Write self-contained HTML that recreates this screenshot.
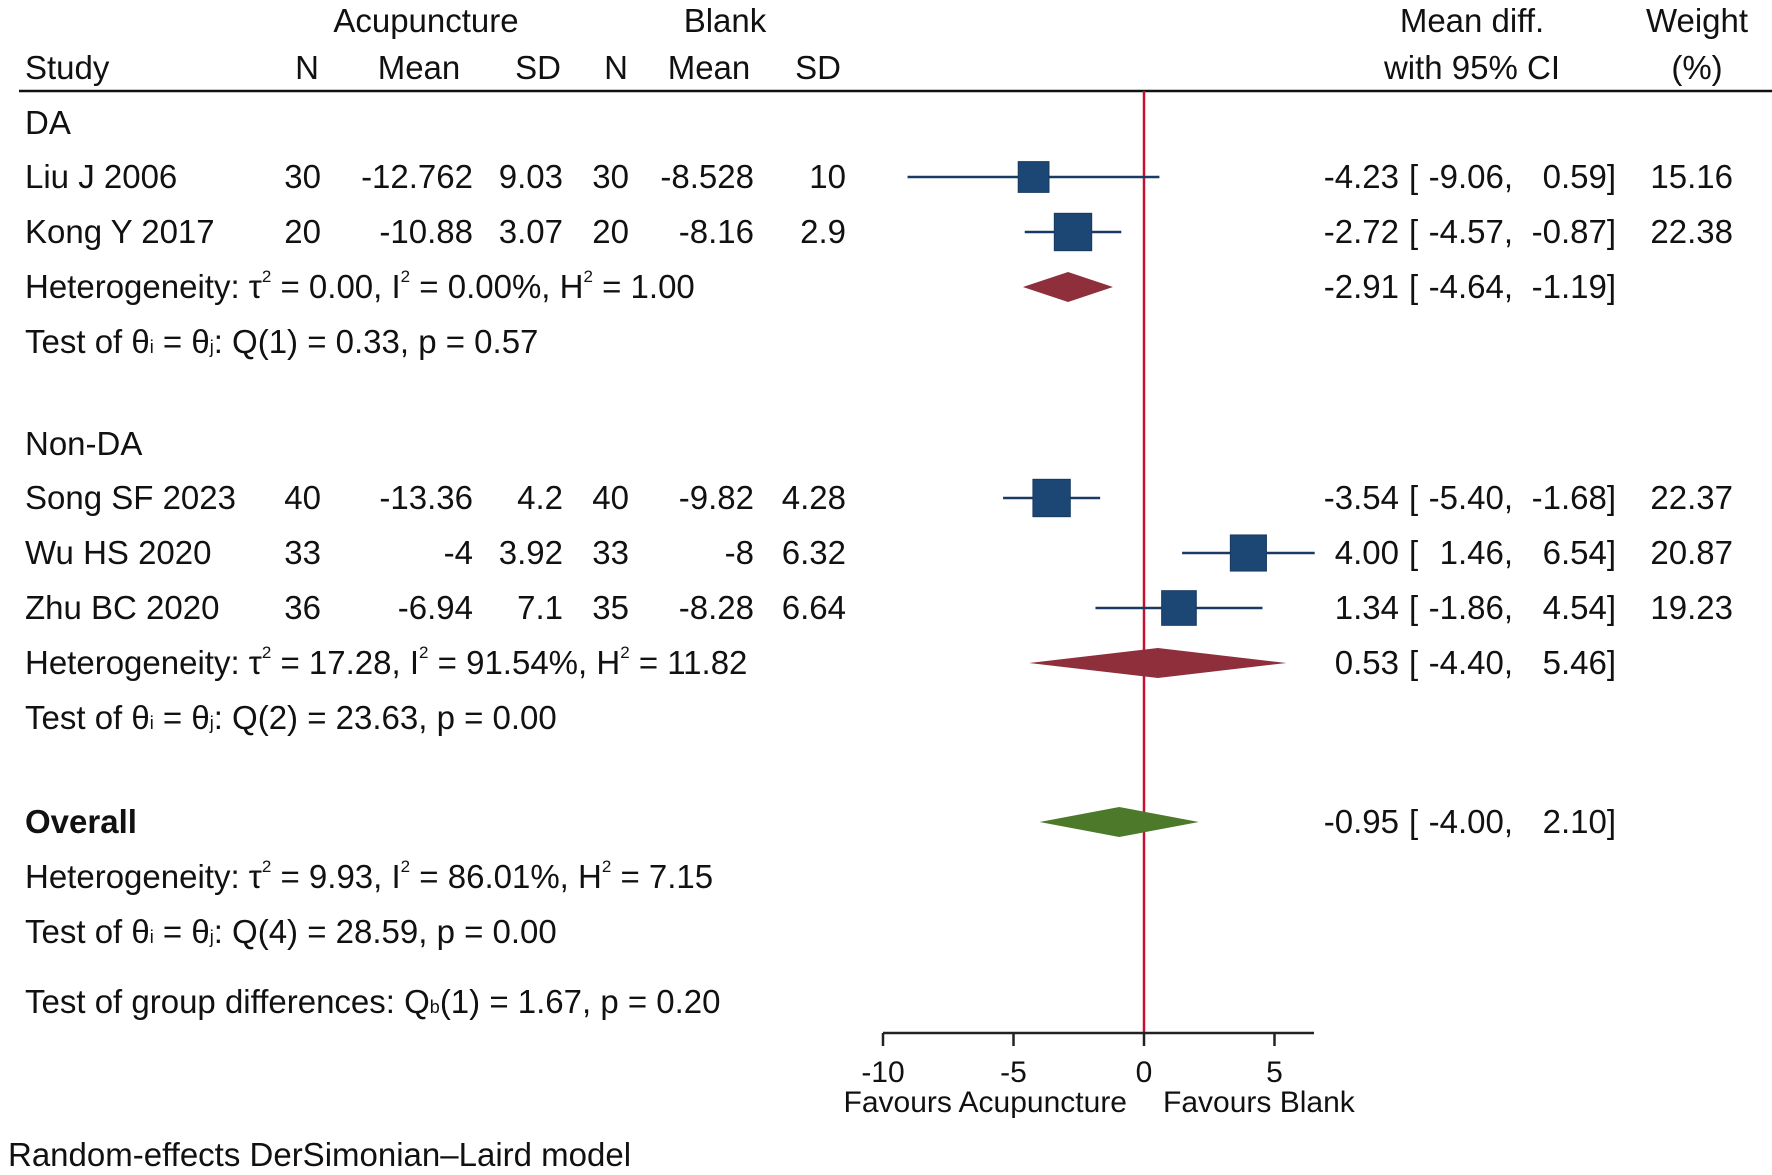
<!DOCTYPE html>
<html><head><meta charset="utf-8"><style>
html,body{margin:0;padding:0;background:#fff;}
svg{display:block;font-family:"Liberation Sans",Arial,sans-serif;}
text{fill:#111;font-size:33px;}
text.ax{font-size:30px;}
</style></head><body>
<svg id="chart" width="1772" height="1175" viewBox="0 0 1772 1175">
<g id="hdr">
<text x="426" y="32" text-anchor="middle">Acupuncture</text>
<text x="725" y="32" text-anchor="middle">Blank</text>
<text x="1472" y="32" text-anchor="middle">Mean diff.</text>
<text x="1697" y="32" text-anchor="middle">Weight</text>
<text x="25" y="79">Study</text>
<text x="307" y="79" text-anchor="middle">N</text>
<text x="419" y="79" text-anchor="middle">Mean</text>
<text x="538" y="79" text-anchor="middle">SD</text>
<text x="616" y="79" text-anchor="middle">N</text>
<text x="709" y="79" text-anchor="middle">Mean</text>
<text x="818" y="79" text-anchor="middle">SD</text>
<text x="1472" y="79" text-anchor="middle">with 95% CI</text>
<text x="1697" y="79" text-anchor="middle">(%)</text>
<line x1="19" y1="91" x2="1772" y2="91" stroke="#111" stroke-width="2.5"/>
</g>
<g id="labels">
<text x="25" y="134">DA</text>
<text x="25" y="298">Heterogeneity: τ<tspan dy="-16" font-size="17">2</tspan><tspan dy="16"> = 0.00, I</tspan><tspan dy="-16" font-size="17">2</tspan><tspan dy="16"> = 0.00%, H</tspan><tspan dy="-16" font-size="17">2</tspan><tspan dy="16"> = 1.00</tspan></text>
<text x="25" y="353">Test of θ<tspan font-size="18">i</tspan> = θ<tspan font-size="18">j</tspan>: Q(1) = 0.33, p = 0.57</text>
<text x="25" y="455">Non-DA</text>
<text x="25" y="674">Heterogeneity: τ<tspan dy="-16" font-size="17">2</tspan><tspan dy="16"> = 17.28, I</tspan><tspan dy="-16" font-size="17">2</tspan><tspan dy="16"> = 91.54%, H</tspan><tspan dy="-16" font-size="17">2</tspan><tspan dy="16"> = 11.82</tspan></text>
<text x="25" y="729">Test of θ<tspan font-size="18">i</tspan> = θ<tspan font-size="18">j</tspan>: Q(2) = 23.63, p = 0.00</text>
<text x="25" y="833" font-weight="bold">Overall</text>
<text x="25" y="888">Heterogeneity: τ<tspan dy="-16" font-size="17">2</tspan><tspan dy="16"> = 9.93, I</tspan><tspan dy="-16" font-size="17">2</tspan><tspan dy="16"> = 86.01%, H</tspan><tspan dy="-16" font-size="17">2</tspan><tspan dy="16"> = 7.15</tspan></text>
<text x="25" y="943">Test of θ<tspan font-size="18">i</tspan> = θ<tspan font-size="18">j</tspan>: Q(4) = 28.59, p = 0.00</text>
<text x="25" y="1013">Test of group differences: Q<tspan font-size="18">b</tspan>(1) = 1.67, p = 0.20</text>
<text x="8" y="1166">Random-effects DerSimonian–Laird model</text>
<text class="ax" x="1127" y="1112" text-anchor="end">Favours Acupuncture</text>
<text class="ax" x="1163" y="1112">Favours Blank</text>
</g>
</svg>
<script>
const studies = ["Liu J 2006","Kong Y 2017","Song SF 2023","Wu HS 2020","Zhu BC 2020"];
const rowY = [177,232,498,553,608];
const n1 = ["30","20","40","33","36"];
const mean1 = ["-12.762","-10.88","-13.36","-4","-6.94"];
const sd1 = ["9.03","3.07","4.2","3.92","7.1"];
const n2 = ["30","20","40","33","35"];
const mean2 = ["-8.528","-8.16","-9.82","-8","-8.28"];
const sd2 = ["10","2.9","4.28","6.32","6.64"];
const est = [-4.23,-2.72,-3.54,4.00,1.34];
const lo = [-9.06,-4.57,-5.40,1.46,-1.86];
const hi = [0.59,-0.87,-1.68,6.54,4.54];
const weights = [15.16,22.38,22.37,20.87,19.23];
const poolNames = ["da-pooled","nonda-pooled","overall-pooled"];
const poolY = [287,663,822];
const poolEst = [-2.91,0.53,-0.95];
const poolLo = [-4.64,-4.40,-4.00];
const poolHi = [-1.19,5.46,2.10];
const poolColor = ["#8e2f3b","#8e2f3b","#4d7a2a"];
const ticks = [-10,-5,0,5];

const NS="http://www.w3.org/2000/svg";
const svg=document.getElementById('chart');
const X=v=>1144+v*26.1;
function mk(tag,attrs,txt){const e=document.createElementNS(NS,tag);for(const k in attrs)e.setAttribute(k,attrs[k]);if(txt!==undefined)e.textContent=txt;svg.appendChild(e);return e;}
const f2=v=>v.toFixed(2);

let el=mk('line',{x1:X(0),y1:91,x2:X(0),y2:1033,stroke:'#c8102e','stroke-width':2.5});


el=mk('line',{x1:X(-10),y1:1033,x2:1314,y2:1033,stroke:'#222','stroke-width':2.5});


ticks.forEach(t=>{
  let l=mk('line',{x1:X(t),y1:1033,x2:X(t),y2:1046,stroke:'#222','stroke-width':2.5});
  
  
  let tx=mk('text',{x:X(t),y:1082,'text-anchor':'middle','class':'ax'},String(t));
  
  
});

function ciText(y,e,l,h,prefix){
  const by=y+11;
  let e1=mk('text',{x:1399,y:by,'text-anchor':'end'},f2(e));
  
  
  let br=mk('text',{x:1409,y:by},'[');
  
  
  let e2=mk('text',{x:1513,y:by,'text-anchor':'end'},f2(l)+',');
  
  
  let e3=mk('text',{x:1616,y:by,'text-anchor':'end'},f2(h)+']');
  
  
}

studies.forEach((s,i)=>{
  const y=rowY[i], by=y+11;
  const cols=[[s,25,'start'],[n1[i],321,'end'],[mean1[i],473,'end'],[sd1[i],563,'end'],[n2[i],629,'end'],[mean2[i],754,'end'],[sd2[i],846,'end']];
  cols.forEach((c,j)=>{
    const t=mk('text',{x:c[1],y:by,'text-anchor':c[2]},c[0]);
    
    
  });
  let ci=mk('line',{x1:X(lo[i]),y1:y,x2:X(hi[i]),y2:y,stroke:'#1b3a63','stroke-width':2.5});
  
  
  const side=7.9*Math.sqrt(weights[i]);
  let b=mk('rect',{x:X(est[i])-side/2,y:y-side/2,width:side,height:side,fill:'#1c4775',stroke:'#163a60','stroke-width':1});
  
  
  ciText(y,est[i],lo[i],hi[i],'study');
  let w=mk('text',{x:1733,y:by,'text-anchor':'end'},f2(weights[i]));
  
  
});

poolY.forEach((y,i)=>{
  const pts=[[X(poolLo[i]),y],[X(poolEst[i]),y-15],[X(poolHi[i]),y],[X(poolEst[i]),y+15]].map(p=>p.join(',')).join(' ');
  let d=mk('polygon',{points:pts,fill:poolColor[i]});
  
  
  ciText(y,poolEst[i],poolLo[i],poolHi[i],'pooled');
});
</script>
</body></html>
